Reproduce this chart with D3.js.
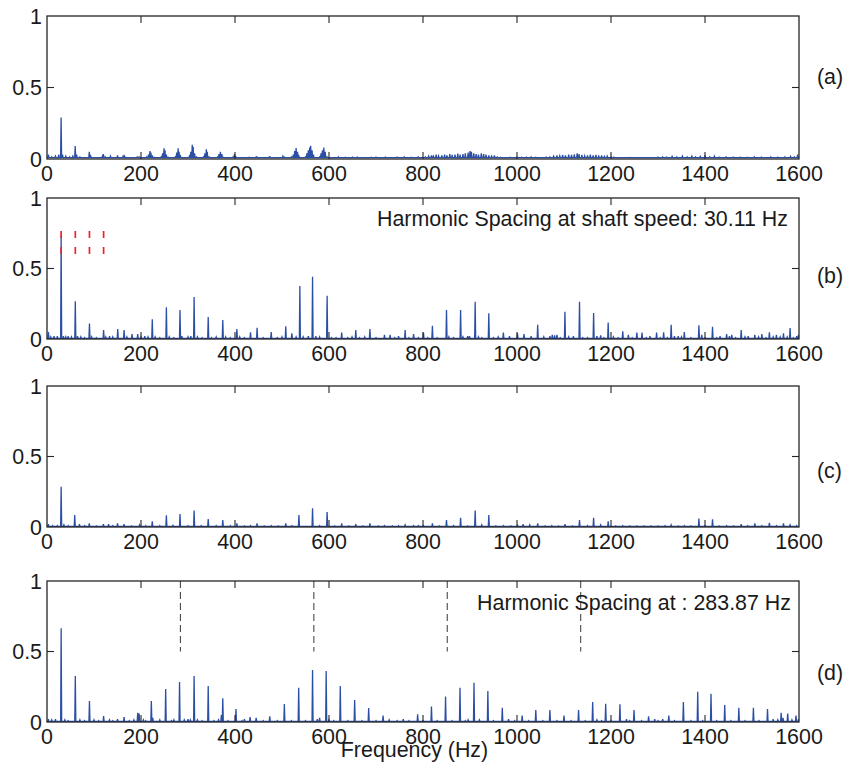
<!DOCTYPE html>
<html>
<head>
<meta charset="utf-8">
<script src="https://cdn.jsdelivr.net/npm/d3@7/dist/d3.min.js"></script>
<style>
  html, body { margin: 0; padding: 0; background: #ffffff; }
  svg { display: block; }
  text { font-family: "Liberation Sans", Arial, Helvetica, sans-serif; fill: #1a1a1a; }
</style>
</head>
<body>
<svg id="chart" width="844" height="765"></svg>
<script>
// ---------------- DATA ----------------
const xTickValues = [0, 200, 400, 600, 800, 1000, 1200, 1400, 1600];
const yTickValues = [0, 0.5, 1];
const yTickLabels = ["0", "0.5", "1"];
const panelLabels = ["(a)", "(b)", "(c)", "(d)"];
const xAxisTitle = "Frequency (Hz)";
const annotationB = "Harmonic Spacing at shaft speed: 30.11 Hz";
const annotationD = "Harmonic Spacing at : 283.87 Hz";
const shaftMarkersB = [30.11, 60.22, 90.33, 120.44];
const shaftMarkerRangeB = [0.603, 0.766];
const harmonicMarkersD = [283.87, 567.74, 851.61, 1135.48];
const harmonicMarkerRangeD = [0.5, 1];
const baseLevels = [0.01, 0.005, 0.005, 0.005];

// panel (a): raw spectrum [frequency Hz, amplitude]
const spectrumA = [[3,0.03],[10,0.015],[18,0.02],[25,0.03],[30,0.29],[33,0.03],[40,0.02],[48,0.015],[55,0.02],[60,0.09],[63,0.03],[70,0.015],[80,0.01],[90,0.05],[93,0.02],[105,0.01],[118,0.02],[120,0.035],[124,0.015],[135,0.02],[140,0.01],[150,0.025],[162,0.02],[165,0.02],[180,0.01],[192,0.015],[196,0.015],
[212,0.015],[216,0.03],[219,0.055],[221,0.045],[224,0.025],[228,0.012],
[243,0.015],[246,0.04],[249,0.075],[251,0.06],[254,0.03],[258,0.012],
[273,0.015],[276,0.045],[279,0.075],[281,0.05],[284,0.02],
[303,0.02],[306,0.05],[309,0.1],[311,0.085],[314,0.04],[318,0.015],
[333,0.015],[336,0.04],[339,0.068],[341,0.05],[345,0.015],
[363,0.015],[366,0.035],[369,0.05],[372,0.035],[376,0.012],
[396,0.015],[399,0.035],[402,0.015],
[430,0.012],[445,0.015],[447,0.013],[473,0.015],[475,0.013],[502,0.02],[505,0.013],
[520,0.015],[524,0.03],[527,0.055],[530,0.077],[533,0.05],[536,0.02],
[550,0.015],[553,0.04],[556,0.06],[559,0.08],[561,0.093],[564,0.06],[567,0.03],
[580,0.015],[583,0.04],[586,0.06],[589,0.08],[592,0.05],[596,0.015],
[620,0.015],[635,0.012],[650,0.013],[660,0.013],[690,0.012],[700,0.013],[720,0.013],[745,0.013],[760,0.015],[775,0.012],[790,0.015],
[805,0.015],[812,0.02],[818,0.025],[822,0.02],[828,0.03],[833,0.022],[840,0.025],[846,0.03],[851,0.025],[857,0.035],[862,0.028],[868,0.03],[874,0.038],[879,0.03],[885,0.035],[890,0.04],[896,0.045],[900,0.055],[903,0.05],[908,0.04],[913,0.035],[918,0.03],[924,0.04],[929,0.035],[934,0.03],[940,0.025],[946,0.02],[952,0.025],[958,0.015],[965,0.012],
[985,0.012],[1000,0.013],[1010,0.012],[1020,0.013],[1030,0.015],[1040,0.012],
[1062,0.013],[1070,0.015],[1078,0.02],[1085,0.025],[1091,0.022],[1097,0.028],[1103,0.025],[1110,0.03],[1116,0.028],[1122,0.033],[1128,0.04],[1132,0.035],[1138,0.028],[1144,0.022],[1150,0.025],[1156,0.03],[1162,0.025],[1168,0.028],[1174,0.02],[1180,0.025],[1186,0.018],[1192,0.02],[1200,0.015],[1206,0.013],
[1240,0.011],[1300,0.013],[1310,0.015],[1318,0.013],[1330,0.018],[1340,0.015],[1352,0.02],[1362,0.015],[1372,0.02],[1380,0.015],[1390,0.018],[1400,0.02],[1410,0.015],[1420,0.02],[1430,0.013],[1445,0.015],[1460,0.013],[1475,0.013],[1490,0.012],[1505,0.015],[1520,0.013],[1540,0.015],[1555,0.013],[1570,0.015],[1582,0.018],[1590,0.015],[1597,0.03]];

// panel (b)
const spectrumB = [[3,0.05],[8,0.015],[15,0.02],[22,0.02],[30.11,0.73],[35,0.02],[40,0.015],[45,0.02],[52,0.015],[60.22,0.267],[65,0.02],[72,0.015],[80,0.01],[90.33,0.11],[95,0.015],[105,0.01],[120.44,0.064],[125,0.015],[133,0.02],[140,0.015],[150.5,0.071],[164,0.064],[170,0.015],[181,0.035],[193,0.035],[200,0.015],[208,0.02],[215,0.015],[224,0.14],[230,0.015],[240,0.01],[254,0.225],[260,0.015],[270,0.01],[283,0.206],[287,0.02],[300,0.015],[306,0.02],[313,0.298],[320,0.015],[330,0.01],[343,0.156],[350,0.01],[360,0.015],[374,0.135],[380,0.015],[390,0.01],[404,0.071],[410,0.015],[420,0.01],[433,0.047],[447,0.08],[460,0.01],[477,0.05],[490,0.01],[500,0.015],[508,0.09],[521,0.04],[530,0.015],[538,0.376],[545,0.015],[556,0.02],[565,0.442],[572,0.02],[580,0.015],[596,0.307],[605,0.01],[615,0.01],[627,0.045],[640,0.01],[649,0.015],[657,0.064],[665,0.01],[676,0.015],[687,0.071],[700,0.01],[718,0.03],[730,0.03],[740,0.01],[748,0.02],[762,0.064],[770,0.01],[780,0.035],[790,0.01],[801,0.045],[810,0.01],[820,0.094],[830,0.01],[850,0.206],[855,0.015],[865,0.01],[880,0.206],[885,0.015],[895,0.02],[899,0.02],[911,0.265],[918,0.015],[925,0.01],[940,0.182],[950,0.01],[960,0.015],[971,0.045],[984,0.02],[1001,0.04],[1015,0.035],[1030,0.02],[1044,0.1],[1057,0.015],[1070,0.02],[1075,0.03],[1080,0.025],[1085,0.03],[1092,0.01],[1102,0.194],[1110,0.015],[1120,0.02],[1133,0.265],[1140,0.01],[1150,0.01],[1163,0.184],[1170,0.02],[1178,0.025],[1185,0.01],[1194,0.116],[1205,0.015],[1215,0.01],[1225,0.055],[1237,0.03],[1245,0.01],[1255,0.045],[1266,0.045],[1275,0.01],[1283,0.02],[1297,0.045],[1305,0.01],[1312,0.047],[1320,0.01],[1328,0.1],[1335,0.02],[1343,0.02],[1350,0.015],[1356,0.05],[1370,0.01],[1387,0.097],[1393,0.03],[1400,0.01],[1416,0.087],[1425,0.01],[1432,0.02],[1446,0.035],[1452,0.02],[1457,0.03],[1465,0.01],[1477,0.064],[1485,0.015],[1492,0.02],[1506,0.03],[1514,0.015],[1521,0.035],[1530,0.01],[1537,0.047],[1545,0.015],[1552,0.03],[1560,0.015],[1567,0.04],[1575,0.015],[1581,0.078],[1588,0.01],[1595,0.02],[1599,0.03]];

// panel (c)
const spectrumC = [[3,0.02],[12,0.01],[22,0.01],[30.11,0.286],[36,0.015],[45,0.01],[59,0.085],[69,0.02],[80,0.01],[90,0.025],[105,0.008],[120,0.02],[131,0.02],[140,0.01],[150,0.025],[164,0.02],[180,0.008],[197,0.015],[210,0.01],[224,0.04],[240,0.01],[254,0.083],[268,0.012],[283,0.092],[300,0.01],[313,0.116],[328,0.01],[343,0.057],[360,0.01],[374,0.05],[390,0.01],[404,0.025],[420,0.008],[433,0.01],[447,0.025],[462,0.008],[477,0.01],[492,0.008],[508,0.025],[521,0.01],[536,0.085],[565,0.132],[580,0.01],[596,0.106],[612,0.008],[627,0.025],[642,0.008],[657,0.02],[672,0.008],[687,0.025],[705,0.008],[718,0.01],[735,0.008],[748,0.01],[762,0.015],[780,0.01],[790,0.01],[801,0.01],[820,0.025],[835,0.008],[850,0.05],[865,0.01],[880,0.066],[895,0.008],[911,0.116],[925,0.015],[940,0.085],[955,0.008],[971,0.01],[987,0.008],[1001,0.012],[1013,0.02],[1027,0.015],[1044,0.025],[1060,0.008],[1074,0.01],[1088,0.008],[1102,0.02],[1118,0.008],[1133,0.05],[1150,0.01],[1163,0.066],[1178,0.015],[1194,0.04],[1210,0.008],[1225,0.01],[1240,0.008],[1255,0.008],[1270,0.008],[1285,0.008],[1300,0.008],[1315,0.01],[1328,0.015],[1343,0.008],[1356,0.01],[1370,0.008],[1387,0.06],[1400,0.01],[1416,0.055],[1430,0.008],[1446,0.01],[1461,0.008],[1477,0.02],[1491,0.01],[1506,0.025],[1521,0.01],[1537,0.03],[1552,0.01],[1567,0.025],[1581,0.015],[1595,0.01]];

// panel (d)
const spectrumD = [[3,0.02],[10,0.015],[18,0.02],[30.11,0.665],[38,0.015],[45,0.01],[60.22,0.326],[70,0.015],[80,0.01],[90.33,0.149],[100,0.015],[110,0.01],[120.44,0.042],[133,0.015],[140,0.01],[150,0.02],[164,0.035],[175,0.01],[185,0.015],[193,0.066],[196,0.06],[205,0.015],[210,0.01],[222,0.149],[225,0.03],[240,0.015],[252.5,0.234],[265,0.01],[270,0.015],[282,0.284],[292,0.015],[300,0.02],[305,0.015],[313,0.326],[320,0.015],[330,0.01],[343,0.255],[355,0.01],[365,0.015],[371,0.05],[374,0.168],[385,0.01],[402,0.092],[415,0.01],[420,0.02],[432,0.035],[445,0.03],[460,0.01],[474,0.04],[490,0.01],[505,0.128],[520,0.01],[535.5,0.243],[550,0.01],[565,0.369],[575,0.02],[580,0.03],[594,0.362],[600,0.015],[610,0.01],[624,0.255],[640,0.01],[654.6,0.156],[670,0.01],[684.4,0.099],[700,0.01],[715,0.045],[728,0.015],[745,0.01],[758,0.02],[770,0.01],[788.6,0.055],[800,0.01],[818,0.109],[830,0.01],[848,0.18],[862,0.01],[878.7,0.243],[890,0.01],[896,0.015],[908.5,0.279],[920,0.015],[938,0.22],[950,0.01],[968.7,0.101],[982,0.02],[995,0.01],[1011,0.045],[1025,0.01],[1040,0.085],[1055,0.01],[1070,0.085],[1085,0.01],[1100,0.045],[1115,0.01],[1131,0.085],[1145,0.01],[1161,0.142],[1170,0.015],[1180,0.01],[1188.7,0.13],[1200,0.01],[1219,0.126],[1233,0.02],[1240,0.01],[1249,0.085],[1265,0.01],[1280,0.04],[1293,0.02],[1300,0.01],[1310,0.02],[1323,0.045],[1335,0.01],[1354,0.142],[1370,0.01],[1384.5,0.215],[1395,0.01],[1412.8,0.2],[1425,0.01],[1442,0.12],[1455,0.01],[1472,0.1],[1485,0.01],[1503,0.1],[1515,0.01],[1533,0.092],[1545,0.02],[1555,0.015],[1562,0.065],[1566,0.03],[1576,0.06],[1585,0.015],[1593.6,0.045],[1599,0.02]];

const spectra = [spectrumA, spectrumB, spectrumC, spectrumD];

// ---------------- LAYOUT ----------------
const plotLeft = 47, plotRight = 799;
const panelTops = [16, 198, 386, 581];
const panelHeights = [143, 141, 141, 141];
const panelLabelY = [76, 275, 470, 672];
const lineColor = "#2c4fa6";
const frameColor = "#262626";
const fontSize = 21.4;
const tickLen = 7;
const halfWidth = 1.1; // Hz, half-width of each spectral spike

const svg = d3.select("#chart");
const x = d3.scaleLinear().domain([0, 1600]).range([plotLeft, plotRight]);

spectra.forEach((spec, i) => {
  const top = panelTops[i], bottom = top + panelHeights[i];
  const y = d3.scaleLinear().domain([0, 1]).range([bottom, top]);
  const base = baseLevels[i];
  const g = svg.append("g");

  g.append("clipPath").attr("id", "clip" + i)
    .append("rect").attr("x", plotLeft).attr("y", top)
    .attr("width", plotRight - plotLeft).attr("height", bottom - top);

  // spectrum path
  const pts = [[0, base]];
  spec.slice().sort((a, b) => a[0] - b[0]).forEach(([f, a]) => {
    pts.push([f - halfWidth, base], [f, a], [f + halfWidth, base]);
  });
  pts.push([1600, base]);
  const line = d3.line().x(d => x(d[0])).y(d => y(d[1]));
  g.append("path").attr("d", line(pts))
    .attr("clip-path", "url(#clip" + i + ")")
    .attr("fill", "none").attr("stroke", lineColor)
    .attr("stroke-width", 1.3).attr("stroke-linejoin", "miter");

  // markers
  if (i === 1) {
    g.selectAll(".mk").data(shaftMarkersB).enter().append("line")
      .attr("x1", d => x(d)).attr("x2", d => x(d))
      .attr("y1", y(shaftMarkerRangeB[1])).attr("y2", y(shaftMarkerRangeB[0]))
      .attr("stroke", "#f0202e")
      .attr("stroke-width", 1.7).attr("stroke-dasharray", "7,9");
    g.append("text").attr("x", 788).attr("y", 226)
      .attr("text-anchor", "end").attr("font-size", fontSize).text(annotationB);
  }
  if (i === 3) {
    g.selectAll(".mk").data(harmonicMarkersD).enter().append("line")
      .attr("x1", d => x(d)).attr("x2", d => x(d))
      .attr("y1", y(harmonicMarkerRangeD[1])).attr("y2", y(harmonicMarkerRangeD[0]))
      .attr("stroke", "#4a4a4a").attr("stroke-width", 1.1)
      .attr("stroke-dasharray", "7,4");
    g.append("text").attr("x", 791).attr("y", 610)
      .attr("text-anchor", "end").attr("font-size", fontSize).text(annotationD);
  }

  // frame
  g.append("rect").attr("x", plotLeft).attr("y", top)
    .attr("width", plotRight - plotLeft).attr("height", bottom - top)
    .attr("fill", "none").attr("stroke", frameColor).attr("stroke-width", 1.3);

  // ticks (inward, MATLAB style)
  const innerX = xTickValues.slice(1, -1);
  g.selectAll(".tb").data(innerX).enter().append("line")
    .attr("x1", d => x(d)).attr("x2", d => x(d))
    .attr("y1", bottom).attr("y2", bottom - tickLen)
    .attr("stroke", frameColor).attr("stroke-width", 1.1);
  g.selectAll(".tt").data(innerX).enter().append("line")
    .attr("x1", d => x(d)).attr("x2", d => x(d))
    .attr("y1", top).attr("y2", top + tickLen)
    .attr("stroke", frameColor).attr("stroke-width", 1.1);
  const innerY = yTickValues.slice(1, -1);
  g.selectAll(".tl").data(innerY).enter().append("line")
    .attr("x1", plotLeft).attr("x2", plotLeft + tickLen)
    .attr("y1", d => y(d)).attr("y2", d => y(d))
    .attr("stroke", frameColor).attr("stroke-width", 1.1);
  g.selectAll(".tr").data(innerY).enter().append("line")
    .attr("x1", plotRight).attr("x2", plotRight - tickLen)
    .attr("y1", d => y(d)).attr("y2", d => y(d))
    .attr("stroke", frameColor).attr("stroke-width", 1.1);

  // tick labels
  g.selectAll(".xl").data(xTickValues).enter().append("text")
    .attr("x", d => x(d)).attr("y", bottom + 22)
    .attr("text-anchor", "middle").attr("font-size", fontSize)
    .text(d => String(d));
  g.selectAll(".yl").data(yTickValues).enter().append("text")
    .attr("x", plotLeft - 5).attr("y", d => y(d) + 7.5)
    .attr("text-anchor", "end").attr("font-size", fontSize)
    .text((d, k) => yTickLabels[k]);

  // panel label
  g.append("text").attr("x", 817).attr("y", panelLabelY[i] + 7.5)
    .attr("font-size", fontSize).text(panelLabels[i]);
});

// x-axis title (overlaps the "600" tick label, as in the reference)
svg.append("text").attr("x", 414.5).attr("y", 757)
  .attr("text-anchor", "middle").attr("font-size", fontSize).text(xAxisTitle);
</script>
</body>
</html>
